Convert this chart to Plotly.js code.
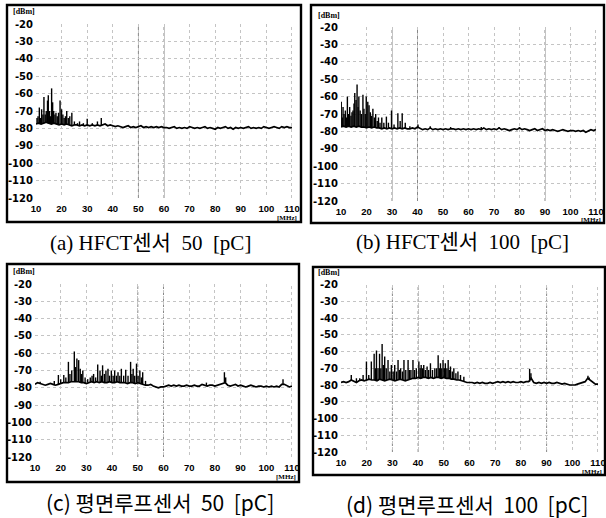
<!DOCTYPE html>
<html>
<head>
<meta charset="utf-8">
<script src="https://cdn.plot.ly/plotly-3.0.1.min.js"></script>
<style>html,body{margin:0;padding:0;background:#fff;}#chart{width:606px;height:518px;}</style>
</head>
<body>
<div id="chart"></div>
<script>
// ---------- DATA ----------
const freqStart = 10;   // MHz, first baseline sample (1 MHz steps to 110)
const xTickVals = [10,20,30,40,50,60,70,80,90,100,110];
const xTickText = ["10","20","30","40","50","60","70","80","90","100","110"];
const yTickVals = [-20,-30,-40,-50,-60,-70,-80,-90,-100,-110,-120];
const yTickText = ["-20","-30","-40","-50","-60","-70","-80","-90","-100","-110","-120"];

const captions = ["(a) HFCT센서  50  [pC]", "(b) HFCT센서  100  [pC]",
                  "(c) 평면루프센서  50  [pC]", "(d) 평면루프센서  100  [pC]"];

// (a) HFCT 50 pC
const baseA = [
-77.5,-77,-77.5,-77,-76.5,-77,-77.5,-77,-77.5,-78,-77.5,-78,-77.5,-78,-78.5,-78,
-78,-78.5,-78,-78.5,-78,-78.5,-78,-78.5,-78,-78.5,-78,-77.5,-78.5,-78,-78.5,
-79,-78.5,-79,-79.5,-79,-78.5,-79.5,-79,-79.5,-79,-78.5,-79.5,-79,-79.5,-79,-79.5,-79,-79.5,-79,-79.5,
-79.5,-80,-79.5,-79,-80,-79.5,-80,-79.5,-80,-79,-79.5,-80,-79.5,-80,-79.5,-79,-80,-79.5,-80,-80.5,
-79.5,-80,-79.5,-79,-80,-79.5,-80.5,-79.5,-80,-79.5,-80,-79.5,-79,-80,-79.5,-80,-79.5,-80,-79,-79.5,
-80,-79.5,-79,-79.5,-80,-79,-79.5,-79,-79.5,-79.5];
const peakFreqA = [10.4,10.8,11.3,11.8,12.2,12.7,13.1,13.6,14.0,14.5,14.8,15.3,15.7,16.1,16.5,16.9,17.4,17.8,18.3,18.8,19.4,20.0,20.5,21.0,21.5,22.0,22.6,23.2,24.0,25.0,26.2,27.0,28.5,30.0,32.0,34.0,35.5];
const peakDbmA  = [-74,-73,-68,-74,-69,-72,-62,-72,-70,-64,-61,-70,-73,-57,-65,-70,-72,-71,-73,-71,-64,-69,-72,-74,-73,-70,-74,-73,-71,-76,-77,-76,-77,-74.5,-77,-76,-74];

// (b) HFCT 100 pC
const baseB = [
-77.5,-77,-77.5,-77,-77.5,-77,-77.5,-77,-77.5,-77.5,-78,-77.5,-78,-77.5,-78,-78,
-78.5,-78,-78.5,-78,-78.5,-78,-78.5,-78,-78.5,-78,-78.5,-78.5,-78,-78.5,-77.5,
-78.5,-79,-78.5,-79,-78,-79,-78.5,-79,-78.5,-79,-78.5,-79,-78.5,-78.5,-79,-78.5,-79,-78.5,-79,-78.5,
-79,-78.5,-79,-78.5,-79,-78,-79,-78.5,-79,-78.5,-79,-78,-79,-78.5,-79,-79.5,-79,-78.5,-79,-78,
-79,-78.5,-79,-79.5,-79,-78.5,-79.5,-79,-78.5,-79.5,-79,-79.5,-79,-79.5,-80,-79.5,-79,-79.5,-80,-79.5,
-79.5,-80,-79.5,-80,-79.5,-80.5,-79.5,-79,-79.5,-79];
const peakFreqB = [10.1,10.5,10.8,11.2,11.7,12.1,12.5,13.0,13.4,13.9,14.3,14.7,15.1,15.4,15.9,16.3,16.7,17.0,17.5,18.0,18.6,19.0,19.5,19.9,20.5,21.0,21.5,22.0,22.5,23.1,23.6,24.2,24.7,25.3,26.0,26.8,27.8,28.6,29.8,30.8,32.3,33.2,34.0,35.2,37.0,40.2,45.0,53.0,65.0,72.0,80.0];
const peakDbmB  = [-63,-72,-66,-70,-68,-72,-60,-70,-66,-71,-69,-68,-64,-58,-62,-53,-66,-60,-68,-70,-59,-67,-70,-60,-63,-65,-69,-71,-67,-72,-70,-74,-72,-75,-72,-75,-71.5,-75,-68,-76,-69.5,-74,-69.5,-75,-77,-76,-77,-77.5,-77.5,-77.5,-77.5];

// (c) planar loop 50 pC
const baseC = [
-78,-77,-77.5,-78,-78.5,-78,-77.5,-78,-78.5,-78,-77.5,-77,-77,-77,-76.5,-76.5,
-76.5,-76.5,-77,-77,-77.5,-77,-76.5,-77,-76.5,-77,-76.5,-77,-77,-76.5,-77,
-77,-76.5,-77,-77,-77,-77.5,-77,-77,-77.5,-77,-77.5,-78,-78.5,-78.5,-78,-79,-79.5,-80,-79.5,-79.5,
-79,-78.5,-79,-78.5,-79,-78.5,-79,-79,-78.5,-79,-79,-78.5,-79,-79,-78,-78.5,-79,-78.5,-78.5,-79,
-78.5,-78,-77.5,-77,-78.5,-79,-78.5,-78,-79,-78.5,-79,-79.5,-79,-78.5,-79,-79.5,-79,-79,-79.5,-79,
-79.5,-79,-79.5,-79,-79.5,-78,-78,-79,-79.5,-79];
const peakFreqC = [12.0,17.5,19.1,20.0,21.2,22.0,23.0,23.6,24.3,25.3,25.8,26.3,27.0,27.6,28.1,28.6,29.5,30.5,31.5,32.2,32.8,33.6,34.4,35.3,35.8,36.3,37.0,37.6,38.4,39.0,39.7,40.4,41.0,41.7,42.3,43.0,43.6,44.5,45.3,46.2,47.2,47.7,48.2,48.8,49.5,50.1,50.8,51.4,51.9,53.0,76.7,83.7,84.2,106.5];
const peakDbmC  = [-76.5,-76,-72.6,-75,-72.6,-74,-65,-72,-70,-59,-68,-63,-64,-69,-72,-70,-74,-75,-74,-73,-72,-74,-66.5,-70,-73,-67,-72,-70,-69,-73,-70,-73,-70,-73,-71,-73,-69,-73,-69.5,-73,-65,-72,-69,-73,-66,-73,-70,-74,-71,-76,-77,-71,-74,-75];

// (d) planar loop 100 pC
const baseD = [
-78.5,-78,-78.5,-78,-77,-78,-78.5,-77.5,-77,-77.5,-77,-76.5,-77,-77,-77.5,-76.5,
-77,-77.5,-77,-76.5,-77,-77.5,-77,-76.5,-77,-77.5,-77,-76.5,-76,-76,-75.5,
-76,-75.5,-75.5,-76,-75.5,-76,-75.5,-75.5,-76,-75.5,-76,-76,-76.5,-76.5,-77,-77,-77.5,-78,-78.5,-78.5,
-78.5,-79,-78.5,-79,-78.5,-79,-79,-78.5,-79,-78.5,-78,-78.5,-78,-78.5,-78,-78.5,-78,-78.5,-78.5,-78,
-78.5,-78,-78,-76,-78.5,-79,-78.5,-79,-78.5,-79,-78.5,-79,-79,-78.5,-79,-79.5,-79,-79.5,-80,-80,
-80,-79.5,-79,-78.5,-78,-76,-77,-78.5,-79.5,-79.5];
const peakFreqD = [14.0,16.0,17.3,18.6,19.9,20.8,21.8,22.9,23.4,23.8,24.4,25.0,25.5,26.0,26.5,27.0,27.6,28.3,29.0,29.6,30.3,30.9,31.6,32.2,32.7,33.2,33.9,34.5,35.2,36.1,36.6,37.2,38.0,38.6,39.3,40.3,40.8,41.2,41.7,42.2,42.8,43.5,44.1,44.8,45.6,46.5,47.2,47.8,48.3,48.7,49.2,49.7,50.2,50.6,51.2,51.7,52.2,52.6,53.3,53.9,54.7,55.5,56.5,57.8,83.4,83.9,106.1,106.6];
const peakDbmD  = [-74,-76,-76,-74,-66,-74,-66,-61.3,-70,-59.4,-70,-61.3,-70,-55.5,-68,-63,-70,-65,-72,-68,-72,-68,-72,-65,-71,-70,-72,-65,-71,-65,-71,-71,-65,-71,-70,-66,-70,-68,-70,-68,-71,-69,-71,-67,-71,-70,-70,-62.3,-70,-67,-70,-65,-70,-67,-70,-65,-71,-69,-72,-70,-73,-72,-74,-75,-70.5,-73,-74.5,-75.5];

// prominent (darker) dotted grid columns seen in each panel
const strongGridA = [50, 60, 110];
const strongGridB = [30, 40, 90, 110];
const strongGridC = [50, 60, 110];
const strongGridD = [30, 40, 90, 110];

// ---------- LAYOUT GEOMETRY (pixels) ----------
const W = 606, H = 518;
const px = v => v / W, py = v => 1 - v / H;
const panels = [
  {base: baseA, pf: peakFreqA, pd: peakDbmA, strong: strongGridA,
   plot: [36, 292, 24, 198], frame: [7, 301, 5, 222], dbm: [11, 12], mhz: [299, 218], cap: [150, 243]},
  {base: baseB, pf: peakFreqB, pd: peakDbmB, strong: strongGridB,
   plot: [341, 596, 27, 201], frame: [311, 604, 5, 223], dbm: [316, 15], mhz: [603, 219.5], cap: [462, 242]},
  {base: baseC, pf: peakFreqC, pd: peakDbmC, strong: strongGridC,
   plot: [35, 292, 284, 457], frame: [7, 299, 264, 482], dbm: [11, 271], mhz: [298, 477], cap: [160, 502]},
  {base: baseD, pf: peakFreqD, pd: peakDbmD, strong: strongGridD,
   plot: [341, 598, 284.5, 452], frame: [313, 605, 267, 475], dbm: [316, 272], mhz: [604, 471.5], cap: [467, 504]}
];

const traces = [];
const layout = {
  width: W, height: H,
  margin: {l: 0, r: 0, t: 0, b: 0},
  paper_bgcolor: '#ffffff', plot_bgcolor: '#ffffff',
  showlegend: false,
  shapes: [], annotations: []
};

panels.forEach((p, i) => {
  const n = i === 0 ? '' : String(i + 1);
  const xa = 'x' + n, ya = 'y' + n;
  const freqs = p.base.map((_, k) => freqStart + k);
  traces.push({
    type: 'scatter', mode: 'lines', x: freqs, y: p.base,
    xaxis: xa, yaxis: ya, line: {color: '#000', width: 1.7}, hoverinfo: 'skip'
  });
  const sx = [], sy = [];
  const m = Math.min(p.pf.length, p.pd.length);
  for (let k = 0; k < m; k++) {
    const f = p.pf[k];
    const floor = p.base[Math.round(f - freqStart)];
    sx.push(f, f, null);
    sy.push(floor, p.pd[k], null);
  }
  traces.push({
    type: 'scatter', mode: 'lines', x: sx, y: sy,
    xaxis: xa, yaxis: ya, line: {color: '#000', width: 1.4}, hoverinfo: 'skip'
  });

  const [l, r, t, b] = p.plot;
  layout['xaxis' + n] = {
    domain: [px(l), px(r)], anchor: ya, range: [10, 110],
    tickmode: 'array', tickvals: xTickVals, ticktext: xTickText,
    ticks: '', showline: false, zeroline: false,
    showgrid: true, gridcolor: '#c4c4c4', gridwidth: 1, griddash: 'dot',
    tickfont: {family: 'Liberation Sans, Arial, sans-serif', size: 9.5, color: '#000', weight: 'bold'},
    ticklabelstandoff: 3, fixedrange: true
  };
  layout['yaxis' + n] = {
    domain: [py(b), py(t)], anchor: xa, range: [-120, -20],
    tickmode: 'array', tickvals: yTickVals, ticktext: yTickText,
    ticks: '', showline: false, zeroline: false,
    showgrid: true, gridcolor: '#c4c4c4', gridwidth: 1, griddash: 'dot',
    tickfont: {family: 'DejaVu Sans, sans-serif', size: 10, color: '#000', weight: 'bold'},
    ticklabelstandoff: 2, fixedrange: true
  };

  p.strong.forEach(v => {
    layout.shapes.push({type: 'line', xref: xa, yref: ya + ' domain', x0: v, x1: v, y0: 0, y1: 1,
      line: {color: '#888', width: 1, dash: 'dot'}, layer: 'below'});
  });

  const [fl, fr, ft, fb] = p.frame;
  layout.shapes.push({type: 'rect', xref: 'paper', yref: 'paper',
    x0: px(fl), x1: px(fr), y0: py(fb), y1: py(ft),
    line: {color: '#000', width: 2.4}, fillcolor: 'rgba(0,0,0,0)'});

  layout.annotations.push({xref: 'paper', yref: 'paper', x: px(p.dbm[0]), y: py(p.dbm[1]),
    xanchor: 'left', yanchor: 'middle', showarrow: false, text: '[dBm]',
    font: {family: 'Liberation Serif, serif', size: 8, color: '#000', weight: 'bold'}});
  layout.annotations.push({xref: 'paper', yref: 'paper', x: px(p.mhz[0]), y: py(p.mhz[1]),
    xanchor: 'right', yanchor: 'middle', showarrow: false, text: '[MHz]',
    font: {family: 'Liberation Serif, serif', size: 7, color: '#000', weight: 'bold'}});
  const serif = i < 2;
  layout.annotations.push({xref: 'paper', yref: 'paper', x: px(p.cap[0]), y: py(p.cap[1]),
    xanchor: 'center', yanchor: 'middle', showarrow: false,
    text: captions[i].replace(/ /g, '\u00a0'),
    font: {family: serif ? 'Liberation Serif, Noto Sans CJK KR, serif' : 'Noto Sans CJK KR, sans-serif',
           size: 21, color: '#000'}});
});

Plotly.newPlot('chart', traces, layout, {staticPlot: true, displayModeBar: false});
</script>
</body>
</html>
